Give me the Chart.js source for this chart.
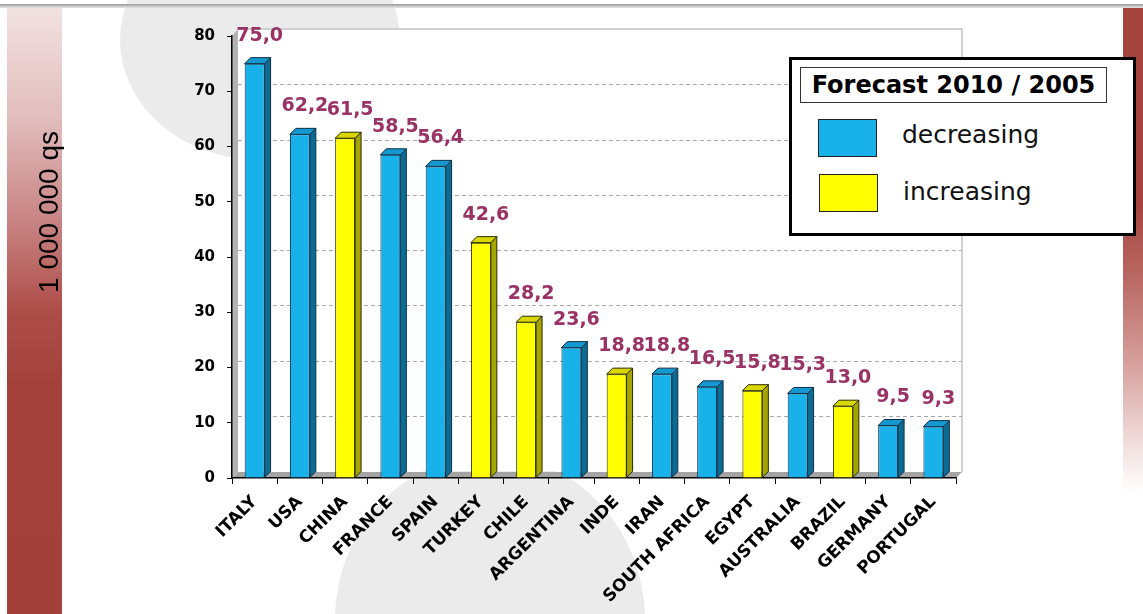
<!DOCTYPE html>
<html>
<head>
<meta charset="utf-8">
<script src="https://cdn.jsdelivr.net/npm/chart.js@4.4.1/dist/chart.umd.min.js"></script>
<style>
  body { margin: 0; background: #fff; }
  #wrap { position: relative; width: 1143px; height: 614px; overflow: hidden; background: #fff; }
  #bandLeft { position: absolute; left: 7px; top: 6px; width: 55px; height: 608px;
    background: linear-gradient(to bottom, #F2E2E2 0%, #E2BEBE 18%, #C98585 35%, #AE4E49 50%, #A4413B 62%, #A3403A 100%); }
  #bandRight { position: absolute; left: 1123px; top: 6px; width: 20px; height: 608px;
    background: linear-gradient(to bottom, #A5433E 0%, #A5433E 32%, #BA6964 45%, #D9A5A2 60%, #F1DEDD 72%, #fff 80%); }
  #topLine { position: absolute; left: 0; top: 4px; width: 1143px; height: 4px;
    background: linear-gradient(to bottom, #9A9A9A, #E6E6E6); }
  .blob { position: absolute; border-radius: 50%; background: #EBEBEB; }
  #chart { position: absolute; left: 0; top: 0; }
  #yTitle { position: absolute; left: -50px; top: 195px; width: 200px; height: 34px; line-height: 34px;
    text-align: center; font: 28px "Liberation Sans", Arial, sans-serif; color: #000;
    transform: rotate(-90deg); white-space: nowrap; }
  #legend { position: absolute; left: 789px; top: 57px; width: 341px; height: 173px;
    border: 3px solid #000; background: #fff; font-family: "DejaVu Sans", sans-serif; }
  #legendTitle { position: absolute; left: 8px; top: 7px; width: 305px; height: 34px; line-height: 34px;
    border: 1.5px solid #333; text-align: center; font-weight: bold; font-size: 24px; color: #000; }
  .swatch { position: absolute; width: 57px; height: 36px; border: 1.5px solid #222; }
  .legText { position: absolute; font-size: 25px; color: #111; line-height: 30px; }
</style>
</head>
<body>
<div id="wrap">
  <div id="bandLeft"></div>
  <div id="bandRight"></div>
  <div class="blob" style="left:120px; top:-80px; width:280px; height:240px;"></div>
  <div class="blob" style="left:335px; top:455px; width:310px; height:330px;"></div>
  <div id="topLine"></div>
  <canvas id="chart" width="1143" height="614"></canvas>
  <div id="yTitle">1 000 000 qs</div>
  <div id="legend"></div>
</div>
<script>
// data
const countries = ['ITALY', 'USA', 'CHINA', 'FRANCE', 'SPAIN', 'TURKEY', 'CHILE', 'ARGENTINA',
  'INDE', 'IRAN', 'SOUTH AFRICA', 'EGYPT', 'AUSTRALIA', 'BRAZIL', 'GERMANY', 'PORTUGAL'];
const values = [75.0, 62.2, 61.5, 58.5, 56.4, 42.6, 28.2, 23.6, 18.8, 18.8, 16.5, 15.8, 15.3, 13.0, 9.5, 9.3];
// forecast 2010 / 2005 : 0 = decreasing, 1 = increasing
const trend = [0, 0, 1, 0, 0, 1, 1, 0, 1, 0, 0, 1, 0, 1, 0, 0];
const trendNames = ['decreasing', 'increasing'];
const legendTitle = 'Forecast 2010 / 2005';
const yMin = 0, yMax = 80, yStep = 10;

// colours: front, side, top, edge
const faceColors = ['#19B1EA', '#FFFF00'];
const sideColors = ['#0B6B93', '#A5A500'];
const topColors = ['#1398CF', '#D8D800'];
const edgeColors = ['#0C2F48', '#2A2A00'];
const DEPTH = 6;

//make legend
const legend = document.getElementById('legend');
const lt = document.createElement('div');
lt.id = 'legendTitle';
lt.innerText = legendTitle;
legend.appendChild(lt);
trendNames.forEach(function(name, idx) {
  const sw = document.createElement('div');
  sw.className = 'swatch';
  sw.style.left = (26 + idx) + 'px';
  sw.style.top = (59 + idx * 55) + 'px';
  sw.style.background = faceColors[idx];
  legend.appendChild(sw);
  const tx = document.createElement('div');
  tx.className = 'legText';
  tx.style.left = (110 + idx) + 'px';
  tx.style.top = (60 + idx * 57) + 'px';
  tx.innerText = name;
  legend.appendChild(tx);
});

// 3D walls + dashed grid behind the bars
const wallsPlugin = {
  id: 'walls',
  beforeDraw(chart) {
    const ctx = chart.ctx;
    const a = chart.chartArea;
    const ys = chart.scales.y;
    ctx.save();
    // back wall
    ctx.fillStyle = '#fff';
    ctx.fillRect(a.left + DEPTH, a.top - DEPTH - 1, a.right - a.left, a.bottom - a.top);
    ctx.strokeStyle = '#C4C4C4';
    ctx.lineWidth = 1.5;
    ctx.beginPath();
    ctx.moveTo(a.left + DEPTH, a.top - DEPTH - 1);
    ctx.lineTo(a.right + DEPTH, a.top - DEPTH - 1);
    ctx.lineTo(a.right + DEPTH, a.bottom - DEPTH);
    ctx.stroke();
    // dashed grid
    ctx.strokeStyle = '#A8A8A8';
    ctx.lineWidth = 1;
    ctx.setLineDash([4, 3]);
    for (let v = yMin + yStep; v < yMax; v += yStep) {
      const py = Math.round(ys.getPixelForValue(v) - DEPTH - 1) + 0.5;
      ctx.beginPath();
      ctx.moveTo(a.left + DEPTH, py);
      ctx.lineTo(a.right + DEPTH, py);
      ctx.stroke();
    }
    ctx.setLineDash([]);
    // left wall
    ctx.fillStyle = '#B2B2B2';
    ctx.beginPath();
    ctx.moveTo(a.left, a.top);
    ctx.lineTo(a.left + DEPTH, a.top - DEPTH - 1);
    ctx.lineTo(a.left + DEPTH, a.bottom - DEPTH);
    ctx.lineTo(a.left, a.bottom);
    ctx.closePath();
    ctx.fill();
    // floor
    ctx.fillStyle = '#A4A4A4';
    ctx.beginPath();
    ctx.moveTo(a.left, a.bottom);
    ctx.lineTo(a.left + DEPTH, a.bottom - DEPTH);
    ctx.lineTo(a.right + DEPTH, a.bottom - DEPTH);
    ctx.lineTo(a.right, a.bottom);
    ctx.closePath();
    ctx.fill();
    ctx.restore();
  }
};

// side and top faces of the bars, then value labels
const barsPlugin = {
  id: 'bars3d',
  afterDatasetsDraw(chart) {
    const ctx = chart.ctx;
    const meta = chart.getDatasetMeta(0);
    ctx.save();
    ctx.lineWidth = 1;
    meta.data.forEach(function(bar, i) {
      const p = bar.getProps(['x', 'y', 'base', 'width'], true);
      const l = p.x - p.width / 2, r = p.x + p.width / 2;
      const t = trend[i];
      ctx.strokeStyle = edgeColors[t];
      ctx.fillStyle = sideColors[t];
      ctx.beginPath();
      ctx.moveTo(r, p.y);
      ctx.lineTo(r + DEPTH, p.y - DEPTH);
      ctx.lineTo(r + DEPTH, p.base - DEPTH);
      ctx.lineTo(r, p.base);
      ctx.closePath();
      ctx.fill();
      ctx.stroke();
      ctx.fillStyle = topColors[t];
      ctx.beginPath();
      ctx.moveTo(l, p.y);
      ctx.lineTo(l + DEPTH, p.y - DEPTH);
      ctx.lineTo(r + DEPTH, p.y - DEPTH);
      ctx.lineTo(r, p.y);
      ctx.closePath();
      ctx.fill();
      ctx.stroke();
    });
    ctx.fillStyle = '#993366';
    ctx.font = 'bold 19px "DejaVu Sans"';
    ctx.textAlign = 'center';
    ctx.textBaseline = 'middle';
    meta.data.forEach(function(bar, i) {
      const txt = values[i].toFixed(1).replace('.', ',');
      ctx.fillText(txt, bar.x + 5, bar.y - 28);
    });
    ctx.restore();
  }
};

const ctx = document.getElementById('chart').getContext('2d');
const myBarChart = new Chart(ctx, {
  type: 'bar',
  data: {
    labels: countries,
    datasets: [{
      data: values,
      backgroundColor: trend.map(t => faceColors[t]),
      borderColor: trend.map(t => edgeColors[t]),
      borderWidth: 1,
      barPercentage: 0.44,
      categoryPercentage: 1.0,
    }]
  },
  options: {
    responsive: false,
    animation: false,
    devicePixelRatio: 1,
    layout: { autoPadding: false, padding: { top: 36, right: 187, bottom: 0, left: 0 } },
    plugins: { legend: { display: false }, tooltip: { enabled: false } },
    scales: {
      x: {
        afterFit(scale) { scale.height = 136; },
        grid: { display: true, drawOnChartArea: false, drawTicks: true, tickLength: 6, color: '#000', offset: true },
        border: { display: true, color: '#000', width: 1.5 },
        ticks: {
          autoSkip: false, maxRotation: 45, minRotation: 45, padding: 8, color: '#000',
          font: { family: 'DejaVu Sans', weight: 'bold', size: 17 }
        }
      },
      y: {
        min: yMin, max: yMax,
        afterFit(scale) { scale.width = 232; },
        grid: { display: true, drawOnChartArea: false, drawTicks: true, tickLength: 5, color: '#000' },
        border: { display: true, color: '#000', width: 1.5 },
        ticks: {
          stepSize: yStep, padding: 12, color: '#000',
          font: { family: 'DejaVu Sans', weight: 'bold', size: 15 }
        }
      }
    }
  },
  plugins: [wallsPlugin, barsPlugin]
});
</script>
</body>
</html>
